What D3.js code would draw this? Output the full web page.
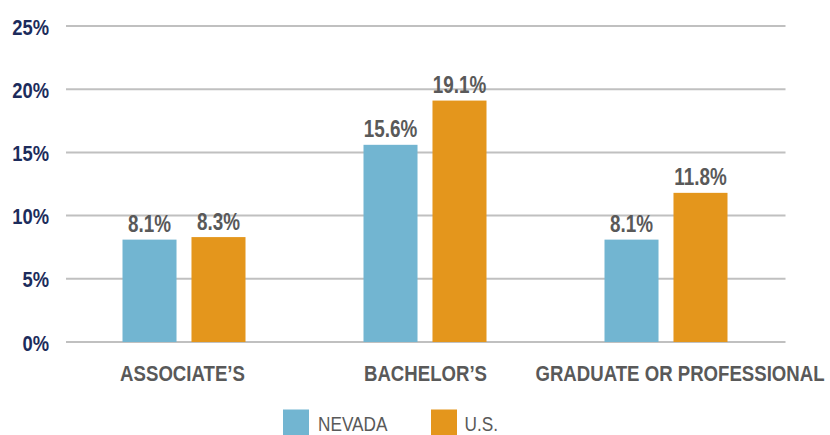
<!DOCTYPE html>
<html>
<head>
<meta charset="utf-8">
<script src="https://cdn.jsdelivr.net/npm/d3@7"></script>
<style>
  body { margin: 0; background: #fff; }
  text { font-family: "Liberation Sans", Arial, sans-serif; }
</style>
</head>
<body>
<div id="chart"></div>
<script>
// chart data
var categories = ["ASSOCIATE\u2019S", "BACHELOR\u2019S", "GRADUATE OR PROFESSIONAL"];
var seriesNames = ["NEVADA", "U.S."];
var nevadaValues = [8.1, 15.6, 8.1];
var usValues = [8.3, 19.1, 11.8];
var yTicks = [0, 5, 10, 15, 20, 25];

var colors = ["#72b5d1", "#e4961c"];

// narrow font look: horizontal squeeze
var squeeze = 0.82;

// category labels sit a little off their band centre in the original
var labelShift = [-1.5, 0.5, 14];

var svgWidth = 830;
var svgHeight = 435;

var margin = { top: 26, right: 43.5, bottom: 93, left: 63.5 };
var width = svgWidth - margin.left - margin.right;
var height = svgHeight - margin.top - margin.bottom;

var svg = d3.select("#chart")
  .append("svg")
  .attr("width", svgWidth)
  .attr("height", svgHeight);

var chartGroup = svg.append("g")
  .attr("transform", `translate(${margin.left}, ${margin.top})`);

// scales
var x0 = d3.scaleBand()
  .domain(categories)
  .range([0, width]);

var x1 = d3.scaleBand()
  .domain(seriesNames)
  .range([x0.bandwidth() / 2 - 61.5, x0.bandwidth() / 2 + 61.5])
  .paddingInner(0.217);

var y = d3.scaleLinear()
  .domain([0, 25])
  .range([height, 0]);

// squeeze a text element around its anchor point
function condense(sel) {
  sel.each(function() {
    var t = d3.select(this);
    var tx = +t.attr("x") || 0;
    var ty = +t.attr("y") || 0;
    t.attr("x", 0).attr("y", 0)
      .attr("transform", `translate(${tx}, ${ty}) scale(${squeeze}, 1)`);
  });
}

// gridlines
chartGroup.append("g")
  .selectAll("line")
  .data(yTicks)
  .enter()
  .append("line")
  .attr("x1", 2.5)
  .attr("x2", width - 1)
  .attr("y1", d => y(d))
  .attr("y2", d => y(d))
  .attr("stroke", "#c0c0c0")
  .attr("stroke-width", 2);

// y axis labels
var leftAxis = d3.axisLeft(y)
  .tickValues(yTicks)
  .tickFormat(d => d + "%")
  .tickSize(0)
  .tickPadding(14.5);

var yAxis = chartGroup.append("g").call(leftAxis);
yAxis.select(".domain").remove();
yAxis.selectAll("text")
  .attr("fill", "#1c2c5c")
  .attr("font-size", 22.4)
  .attr("font-weight", "bold")
  .attr("dy", "0.36em")
  .call(condense);

// x axis labels
var bottomAxis = d3.axisBottom(x0).tickSize(0).tickPadding(0);
var xAxis = chartGroup.append("g")
  .attr("transform", `translate(0, ${height})`)
  .call(bottomAxis);
xAxis.select(".domain").remove();
xAxis.selectAll("text")
  .attr("x", (d, i) => labelShift[i])
  .attr("y", 38.5)
  .attr("dy", null)
  .attr("fill", "#595959")
  .attr("font-size", 22.7)
  .attr("font-weight", "bold")
  .call(condense);

// bars
var rows = categories.map((c, i) => ({
  category: c,
  values: [
    { name: seriesNames[0], value: nevadaValues[i] },
    { name: seriesNames[1], value: usValues[i] }
  ]
}));

var groups = chartGroup.selectAll(".group")
  .data(rows)
  .enter()
  .append("g")
  .attr("class", "group")
  .attr("transform", d => `translate(${x0(d.category)}, 0)`);

groups.selectAll("rect")
  .data(d => d.values)
  .enter()
  .append("rect")
  .attr("x", d => x1(d.name))
  .attr("y", d => y(d.value))
  .attr("width", x1.bandwidth())
  .attr("height", d => height - y(d.value))
  .attr("fill", (d, i) => colors[i]);

groups.selectAll(".val")
  .data(d => d.values)
  .enter()
  .append("text")
  .attr("class", "val")
  .attr("x", d => x1(d.name) + x1.bandwidth() / 2)
  .attr("y", d => y(d.value) - 7.5)
  .attr("text-anchor", "middle")
  .attr("fill", "#595959")
  .attr("font-size", 23)
  .attr("font-weight", "bold")
  .text(d => d.value.toFixed(1) + "%")
  .call(condense);

// legend
var legendPos = [283, 431];
var legendTextPos = [318, 464.5];
var legend = svg.append("g")
  .selectAll("g")
  .data(seriesNames)
  .enter()
  .append("g");

legend.append("rect")
  .attr("x", (d, i) => legendPos[i])
  .attr("y", 409.5)
  .attr("width", 26)
  .attr("height", 26)
  .attr("fill", (d, i) => colors[i]);

legend.append("text")
  .attr("x", (d, i) => legendTextPos[i])
  .attr("y", 431)
  .attr("fill", "#595959")
  .attr("font-size", 21)
  .text(d => d)
  .call(condense);
</script>
</body>
</html>
